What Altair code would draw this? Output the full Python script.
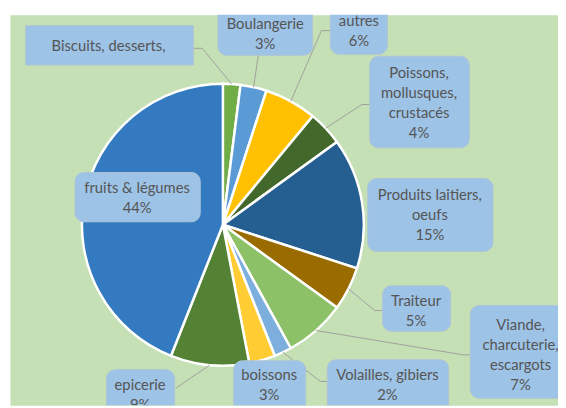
import math
import altair as alt
import pandas as pd

# ---- data ----
categories = ["Biscuits, desserts", "Boulangerie", "autres",
              "Poissons, mollusques, crustacés", "Produits laitiers, oeufs",
              "Traiteur", "Viande, charcuterie, escargots", "Volailles, gibiers",
              "boissons", "epicerie", "fruits & légumes"]
values = [2, 3, 6, 4, 15, 5, 7, 2, 3, 9, 44]
label_names = ["Biscuits, desserts,", "Boulangerie", "autres",
               "Poissons,\nmollusques,\ncrustacés", "Produits laitiers,\noeufs",
               "Traiteur", "Viande,\ncharcuterie,\nescargots", "Volailles, gibiers",
               "boissons", "epicerie", "fruits & légumes"]
show_pct = [False, True, True, True, True, True, True, True, True, True, True]

# ---- styles / layout ----
colors = ["#70AD47", "#5B9BD5", "#FFC000", "#43682B", "#255E91",
          "#9A6C00", "#8CC168", "#7CAFDD", "#FFCD33", "#548235", "#337AC0"]
CX, CY, R = 226, 225, 143
VX0, VY0, VW, VH = 10, 12, 556, 396

# label boxes (image coordinates): left, right, top, bottom
box_l = [26, 221, 335, 375, 373, 388, 477, 332, 237, 108, 76]
box_r = [196, 317, 393, 476, 500, 457, 579, 455, 310, 177, 203]
box_t = [23, 2, 2, 54, 178, 287, 307, 362, 363, 372, 172]
box_b = [63, 53, 52, 147, 252, 333, 401, 420, 420, 420, 222]
# centre x and first-line y of each label text
text_x = [110, 269, 364, 425, 436, 422, 528, 393, 273, 142, 139]
text_y = [44, 21, 18, 71, 195, 302, 327, 377, 377, 388, 188]
# leader line: attach point at box, optional elbow
attach = {0: (196, 46), 1: (262, 53), 2: (335, 28), 3: (375, 103),
          5: (388, 312), 6: (477, 357), 7: (332, 384), 9: (178, 391)}
elbow = {0: (205, 46), 2: (326, 28), 3: (367, 103), 5: (380, 312),
         6: (470, 357), 7: (325, 384)}

pie_df = pd.DataFrame({"category": categories, "value": values,
                       "order": list(range(len(values)))})

total = sum(values)
cum = 0
mids = []
for v in values:
    mids.append((cum + v / 2) / total * 2 * math.pi)
    cum += v

line_rows = []
for i, (ax, ay) in attach.items():
    a = mids[i]
    px, py = CX + R * math.sin(a), CY - R * math.cos(a)
    pts = [(px, py)]
    if i in elbow:
        pts.append(elbow[i])
    pts.append((ax, ay))
    for k, (x, y) in enumerate(pts):
        line_rows.append({"label": categories[i], "seq": k, "x": x, "y": y})
lines_df = pd.DataFrame(line_rows)

texts = [n + ("\n" + f"{v}%" if s else "") for n, v, s in zip(label_names, values, show_pct)]
box_df = pd.DataFrame({"label": categories, "x1": box_l, "x2": box_r,
                       "y1": box_t, "y2": box_b, "tx": text_x, "ty": text_y,
                       "text": texts, "square": [i == 0 for i in range(len(categories))]})

xs = alt.Scale(domain=[VX0, VX0 + VW], nice=False, zero=False)
ys = alt.Scale(domain=[VY0 + VH, VY0], nice=False, zero=False)

arc = alt.Chart(pie_df).mark_arc(outerRadius=R, stroke="white", strokeWidth=2.5).encode(
    theta=alt.Theta("value:Q", stack=True),
    order=alt.Order("order:Q"),
    color=alt.Color("category:N", scale=alt.Scale(domain=categories, range=colors), legend=None),
    x=alt.value(CX - VX0),
    y=alt.value(CY - VY0),
)

leaders = alt.Chart(lines_df).mark_line(color="#A0A0A0", strokeWidth=1).encode(
    x=alt.X("x:Q", scale=xs, axis=None),
    y=alt.Y("y:Q", scale=ys, axis=None),
    detail="label:N",
    order="seq:Q",
)

box_round = alt.Chart(box_df).transform_filter("!datum.square").mark_rect(
    cornerRadius=9, fill="#9DC3E6", stroke="#AFC3D8", strokeWidth=1, clip=True
).encode(
    x=alt.X("x1:Q", scale=xs, axis=None), x2="x2:Q",
    y=alt.Y("y1:Q", scale=ys, axis=None), y2="y2:Q",
)
box_square = alt.Chart(box_df).transform_filter("datum.square").mark_rect(
    fill="#9DC3E6", stroke="#AFC3D8", strokeWidth=1, clip=True
).encode(
    x=alt.X("x1:Q", scale=xs, axis=None), x2="x2:Q",
    y=alt.Y("y1:Q", scale=ys, axis=None), y2="y2:Q",
)

labels = alt.Chart(box_df).mark_text(
    font="Lato", fontSize=15, color="#555555", lineBreak="\n", lineHeight=20.3,
    baseline="middle", align="center", clip=True
).encode(
    x=alt.X("tx:Q", scale=xs, axis=None),
    y=alt.Y("ty:Q", scale=ys, axis=None),
    text="text:N",
)

chart = alt.layer(arc, leaders, box_round, box_square, labels).properties(
    width=VW, height=VH,
    autosize=alt.AutoSizeParams(type="none"),
    padding={"left": VX0 - 8, "top": VY0 - 8, "right": 0, "bottom": 0},
    background="white",
).configure_view(fill="#C5E0B4", stroke="transparent")

chart.save("out.html", embed_options={"renderer": "svg", "actions": False})
